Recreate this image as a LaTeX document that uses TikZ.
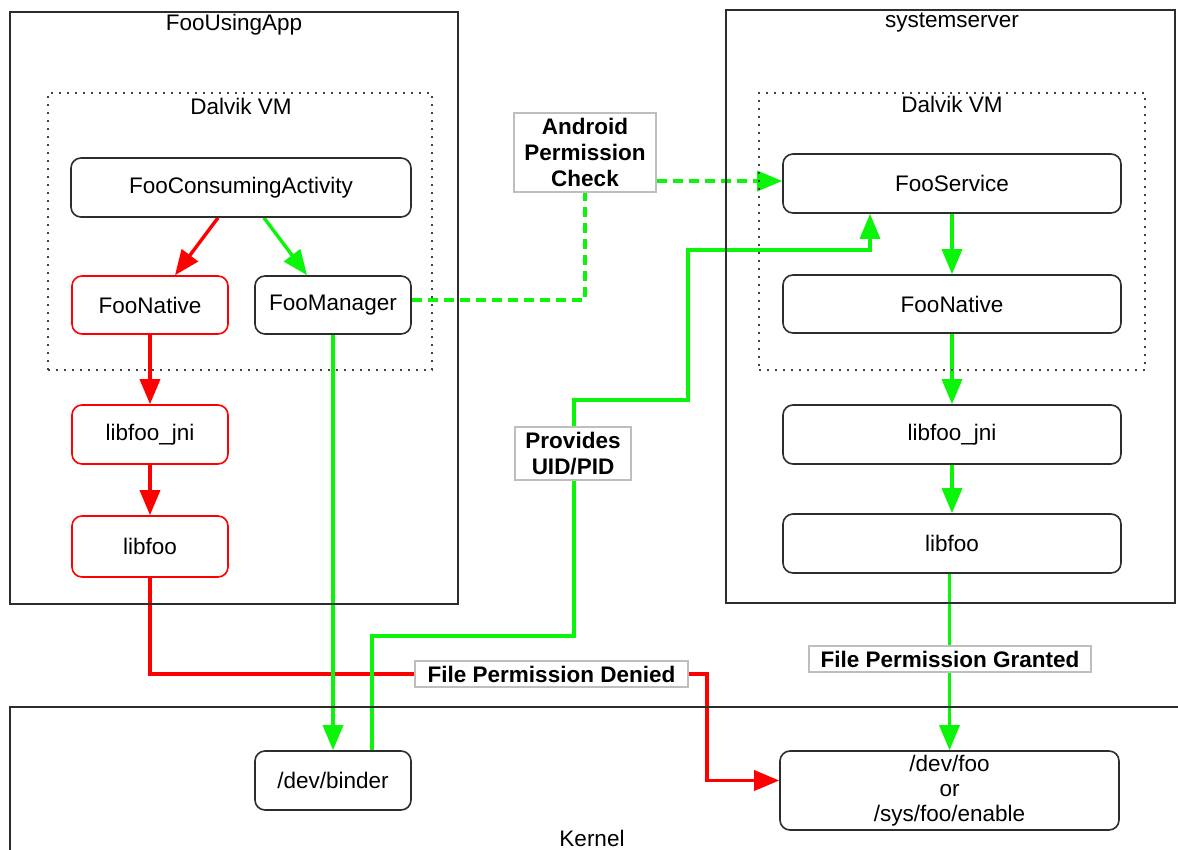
\documentclass[tikz,border=0pt]{standalone}
\usepackage{fontspec}
\setmainfont{Liberation Sans}
\usetikzlibrary{arrows.meta,calc,backgrounds}
\definecolor{gr}{RGB}{10,245,10}
\definecolor{rd}{RGB}{255,0,0}
\definecolor{bd}{RGB}{45,45,45}
\definecolor{lb}{RGB}{190,190,190}
\tikzset{
  txt/.style={font=\fontsize{22.5}{26}\selectfont},
  container/.style={draw=bd,line width=1.6pt,inner sep=0pt},
  vmbox/.style={draw=bd!90,line width=2.4pt,dash pattern=on 1.6pt off 6.4pt,inner sep=0pt},
  rbox/.style={draw=bd,line width=1.6pt,rounded corners=10pt,fill=white,txt,align=center,inner sep=0pt},
  redbox/.style={rbox,draw=rd},
  lbl/.style={draw=lb,line width=1.2pt,fill=white,font=\bfseries\fontsize{22.5}{26}\selectfont,align=center,inner sep=0pt},
  tip/.style={-{Triangle[length=25pt,width=20pt]}},
  gline/.style={draw=gr,line width=3.4pt,tip},
  rline/.style={draw=rd,line width=3.4pt,tip},
  gdash/.style={draw=gr,line width=3.4pt,dash pattern=on 10pt off 6pt},
}
\begin{document}
\begin{tikzpicture}[x=1pt,y=-1pt]
\useasboundingbox (0,0) rectangle (1178,850);
% containers
\node[container,minimum width=448,minimum height=592] (app) at (234,308) {};
\node[txt] (apptitle) at (234,25) {FooUsingApp};
\node[vmbox,minimum width=384,minimum height=277] (vm1) at (240,231.5) {};
\node[txt] (vm1title) at (241,106) {Dalvik VM};
\node[container,minimum width=449,minimum height=593] (sys) at (950.5,306.5) {};
\node[txt] (systitle) at (952,23) {systemserver};
\node[vmbox,minimum width=386,minimum height=277] (vm2) at (952,231.5) {};
\node[txt] (vm2title) at (952,104) {Dalvik VM};
% kernel
\coordinate (kbl) at (10,850);
\coordinate (ktl) at (10,707);
\coordinate (ktr) at (1178,707);
\draw[draw=bd,line width=1.6pt] (kbl) -- (ktl) -- (ktr);
\node[txt] (kernel) at (592,838) {Kernel};
% left nodes
\node[rbox,minimum width=340,minimum height=59] (fca) at (241,187.5) {FooConsumingActivity};
\node[redbox,minimum width=156,minimum height=58] (fn1) at (150,305) {FooNative};
\node[rbox,minimum width=156,minimum height=58] (fm) at (333,305) {FooManager};
\node[redbox,minimum width=156,minimum height=59] (jni1) at (150,434.5) {libfoo\_jni};
\node[redbox,minimum width=156,minimum height=61] (lib1) at (150,546.5) {libfoo};
% right nodes
\node[rbox,minimum width=338,minimum height=59] (fs) at (952,183.5) {FooService};
\node[rbox,minimum width=338,minimum height=58] (fn2) at (952,304) {FooNative};
\node[rbox,minimum width=338,minimum height=59] (jni2) at (952,434.5) {libfoo\_jni};
\node[rbox,minimum width=338,minimum height=59] (lib2) at (952,543.5) {libfoo};
% kernel nodes
\node[rbox,minimum width=156,minimum height=59] (binder) at (333,780.5) {/dev/binder};
\node[rbox,minimum width=339,minimum height=79,font=\fontsize{22.5}{25}\selectfont] (devfoo) at (949.5,790.5) {/dev/foo\\or\\/sys/foo/enable};
% labels
\node[lbl,minimum width=142,minimum height=79] (apc) at (585,152.5) {Android\\Permission\\Check};
\node[lbl,minimum width=116,minimum height=53] (uid) at (573,453.5) {Provides\\UID/PID};
\node[lbl,minimum width=273,minimum height=26] (denied) at (551.5,674) {File Permission Denied};
\node[lbl,minimum width=282,minimum height=26] (granted) at (950,659) {File Permission Granted};
% connectors
\begin{pgfonlayer}{background}
\draw[rline] ($(fca.south)+(-23,0)$) -- ($(fn1.north)+(25,0)$);
\draw[gline] ($(fca.south)+(23,0)$) -- ($(fm.north)+(-26,0)$);
\draw[rline] (fn1.south) -- (jni1.north);
\draw[rline] (jni1.south) -- (lib1.north);
\draw[rline] (lib1.south) |- (707,674) |- ($(devfoo.west)+(0,-10)$);
\draw[gline] (fm.south) -- (binder.north);
\draw[gline] ($(binder.north)+(39,0)$) |- (574,636) -- (574,400) -| (688,250) -| ($(fs.south)+(-82,0)$);
\draw[gdash] ($(fm.east)+(0,-5)$) -| (apc.south);
\draw[gdash,tip] ($(apc.east)+(0,28.5)$) -- ($(fs.west)+(0,-2.5)$);
\draw[gline] (fs.south) -- (fn2.north);
\draw[gline] (fn2.south) -- (jni2.north);
\draw[gline] (jni2.south) -- (lib2.north);
\draw[gline] (lib2.south -| devfoo.north) -- (devfoo.north);
\end{pgfonlayer}
\end{tikzpicture}
\end{document}
